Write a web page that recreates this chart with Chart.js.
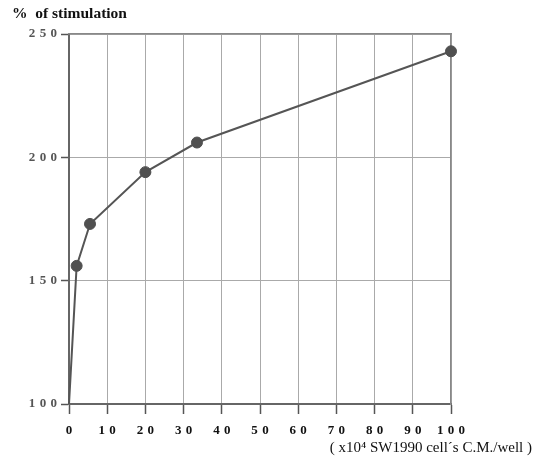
<!DOCTYPE html>
<html>
<head>
<meta charset="utf-8">
<script src="https://cdn.jsdelivr.net/npm/chart.js@4.4.1/dist/chart.umd.min.js"></script>
<style>
  body { margin: 0; background: #fff; }
  #wrap { width: 537px; height: 468px; }
</style>
</head>
<body>
<div id="wrap"><canvas id="chart" width="537" height="468"></canvas></div>
<script>
// datos
const cellsCM = [0, 2, 5.5, 20, 33.5, 100];        // x10^4 cells C.M./well
const stimulation = [100, 156, 173, 194, 206, 243];  // % of stimulation
const xTicks = [0, 10, 20, 30, 40, 50, 60, 70, 80, 90, 100];
const yTicks = [100, 150, 200, 250];
const yTitle = "%  of stimulation";
const xTitle = "( x10\u2074 SW1990 cell\u00b4s C.M./well )";

const serif = "'Liberation Serif', 'DejaVu Serif', serif";
const spaced = v => String(v).split("").join("\u2004");

const points = cellsCM.map((x, i) => ({ x, y: stimulation[i] }));

new Chart(document.getElementById("chart"), {
  type: "line",
  data: {
    datasets: [{
      data: points,
      borderColor: "#555",
      borderWidth: 2,
      backgroundColor: "#555",
      pointBackgroundColor: "#505050",
      pointBorderColor: "#505050",
      pointBorderWidth: 1,
      pointRadius: points.map((p, i) => i === 0 ? 0 : 5.5),
      tension: 0,
      clip: false
    }]
  },
  options: {
    responsive: false,
    animation: false,
    layout: { padding: { left: 12, right: 5, top: 0, bottom: 0 } },
    plugins: {
      legend: { display: false },
      tooltip: { enabled: false },
      title: {
        display: true,
        text: yTitle,
        align: "start",
        color: "#111",
        font: { family: serif, size: 15.5, weight: "bold" },
        padding: { top: 4.7, bottom: 10.7 }
      },
      subtitle: {
        display: true,
        position: "bottom",
        text: xTitle,
        align: "end",
        color: "#111",
        font: { family: serif, size: 15, weight: "normal" },
        padding: { top: 0, bottom: 11 }
      }
    },
    scales: {
      x: {
        type: "linear",
        position: "bottom",
        min: 0,
        max: 100,
        afterBuildTicks: s => { s.ticks = xTicks.map(v => ({ value: v })); },
        afterFit: s => { s.height = 35; },
        ticks: {
          color: "#111",
          padding: 9,
          maxRotation: 0,
          font: { family: serif, size: 13, weight: "bold" },
          callback: spaced
        },
        grid: { color: "#aaa", lineWidth: 1, tickLength: 10, tickColor: "#555", tickWidth: 1.5 },
        border: { color: "#666", width: 2 }
      },
      y: {
        min: 100,
        max: 250,
        afterBuildTicks: s => { s.ticks = yTicks.map(v => ({ value: v })); },
        afterFit: s => { s.width = 57; },
        ticks: {
          color: "#555",
          padding: 4,
          font: { family: serif, size: 13, weight: "bold" },
          callback: spaced
        },
        grid: { color: "#aaa", lineWidth: 1, tickLength: 8, tickColor: "#555", tickWidth: 1.5 },
        border: { color: "#666", width: 2 }
      },
      xTop: {
        type: "linear",
        position: "top",
        min: 0,
        max: 100,
        afterFit: s => { s.height = 0; },
        ticks: { display: false },
        grid: { display: false },
        border: { color: "#888", width: 1.5 }
      },
      yRight: {
        position: "right",
        min: 100,
        max: 250,
        afterFit: s => { s.width = 81; },
        ticks: { display: false },
        grid: { display: false },
        border: { color: "#888", width: 1.5 }
      }
    }
  }
});
</script>
</body>
</html>
